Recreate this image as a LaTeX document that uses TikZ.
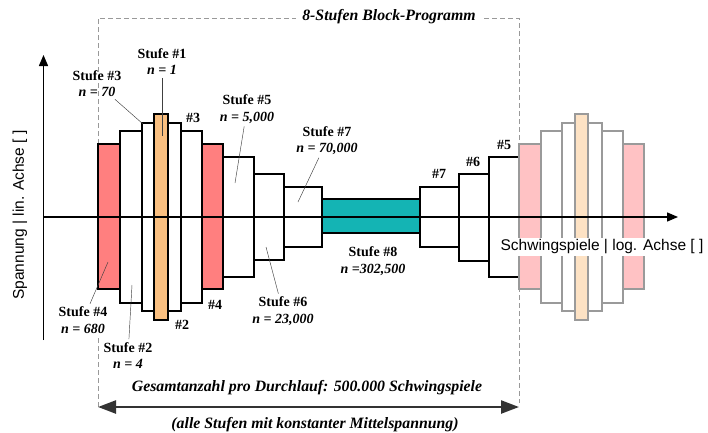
\documentclass[tikz,border=0pt]{standalone}
\usepackage{fontspec}
\setmainfont{Liberation Serif}
\newfontfamily\axfont{Liberation Sans}
\usetikzlibrary{arrows.meta}
\definecolor{redf}{HTML}{FF7F7F}
\definecolor{orf}{HTML}{F9BF80}
\definecolor{teal2}{HTML}{14B4B4}
\definecolor{pinkf}{HTML}{FFC2C4}
\definecolor{orlight}{HTML}{FDE2C4}
\definecolor{fadeline}{HTML}{9A9A9A}
\begin{document}
\begin{tikzpicture}[x=1pt,y=-1pt,
  blk/.style={draw=black,line width=1.2pt},
  faded/.style={draw=fadeline,line width=1.2pt},
  lbl/.style={font=\bfseries\fontsize{14}{16.5}\selectfont,align=center,inner sep=1pt},
  tag/.style={font=\bfseries\fontsize{14}{16.5}\selectfont,inner sep=1pt},
  lead/.style={draw=black!75,line width=0.45pt,shorten <=2pt},
  dashln/.style={draw=gray!80,line width=0.7pt,dash pattern=on 5pt off 3pt},
  axln/.style={draw=black,line width=1.3pt},
  axtxt/.style={font=\axfont\fontsize{15.5}{18}\selectfont},
  btxt/.style={font=\bfseries\itshape\fontsize{15.8}{18}\selectfont,inner sep=1pt}]
\useasboundingbox (0,0) rectangle (708,432);
\fill[white] (0,0) rectangle (708,432);

% dashed frame of the block programme
\draw[dashln] (98,144) -- (98,18) -- (519,18) -- (519,403);
\draw[dashln] (98,338) -- (98,407);

% left block (stages 1-4)
\draw[blk,fill=redf] (98,144) rectangle (120,289);
\draw[blk,fill=white] (120,131) rectangle (142,303);
\draw[blk,fill=white] (142,123) rectangle (154,311);
\draw[blk,fill=orf] (154,114) rectangle (168,320);
\draw[blk,fill=white] (168,123) rectangle (181,311);
\draw[blk,fill=white] (181,131) rectangle (202,303);
\draw[blk,fill=redf] (202,144) rectangle (223,289);
% stages 5-8-5
\draw[blk,fill=white] (223,157) rectangle (254,277);
\draw[blk,fill=white] (254,174) rectangle (284,260);
\draw[blk,fill=white] (284,187) rectangle (322,247);
\draw[blk,fill=teal2] (322,199) rectangle (420,233);
\draw[blk,fill=white] (420,187) rectangle (459,247);
\draw[blk,fill=white] (459,174) rectangle (489,261);
\draw[blk,fill=white] (489,157) rectangle (519,277);
% faded repetition
\draw[faded,fill=pinkf] (519,144) rectangle (541,289);
\draw[faded,fill=white] (541,131) rectangle (562,303);
\draw[faded,fill=white] (562,123) rectangle (575,311);
\draw[faded,fill=orlight] (575,114) rectangle (588,320);
\draw[faded,fill=white] (588,123) rectangle (602,311);
\draw[faded,fill=white] (602,131) rectangle (623,303);
\draw[faded,fill=pinkf] (623,144) rectangle (644,289);

% axes
\coordinate (yb) at (43.5,340);
\coordinate (yt) at (43.5,55);
\coordinate (xl) at (43.5,217);
\coordinate (xr) at (678,217);
\draw[axln,-{Triangle[length=11pt,width=9pt]}] (yb) -- (yt);
\draw[axln,-{Triangle[length=11pt,width=9pt]}] (xl) -- (xr);

% title
\node[btxt,fill=white,inner xsep=6pt] (title) at (389,17) {8-Stufen Block-Programm};

% axis labels
\node[axtxt,fill=white,inner sep=2pt] (xlab) at (602,247) {Schwingspiele | log. Achse [ ]};
\node[axtxt,rotate=90] (ylab) at (20,215) {Spannung | lin. Achse [ ]};

% stage labels
\node[lbl] (l1) at (162,61.5) {Stufe \#1\\\textit{n = 1}};
\node[lbl] (l3) at (97,83.5) {Stufe \#3\\\textit{n = 70}};
\node[lbl] (l5) at (247,109) {Stufe \#5\\\textit{n = 5,000}};
\node[lbl] (l7) at (327,140.5) {Stufe \#7\\\textit{n = 70,000}};
\node[lbl] (l4) at (83,320) {Stufe \#4\\\textit{n = 680}};
\node[lbl] (l2) at (128,355.5) {Stufe \#2\\\textit{n = 4}};
\node[lbl] (l6) at (283,311) {Stufe \#6\\\textit{n = 23,000}};
\node[lbl] (l8) at (373,261) {Stufe \#8\\\textit{n =302,500}};

\coordinate (p1) at (162,136);
\coordinate (p3) at (143,124);
\coordinate (p5) at (235,183);
\coordinate (p7) at (298,202);
\coordinate (p4) at (108,262);
\coordinate (p2) at (132,285);
\coordinate (p6) at (266,247);
\draw[lead] (l1) -- (p1);
\draw[lead] (l3) -- (p3);
\draw[lead] (l5) -- (p5);
\draw[lead] (l7) -- (p7);
\draw[lead] (l4) -- (p4);
\draw[lead] (l2) -- (p2);
\draw[lead] (l6) -- (p6);

% short tags
\node[tag] (t3) at (193,118) {\#3};
\node[tag] (t2) at (182,325) {\#2};
\node[tag] (t4) at (215,305) {\#4};
\node[tag] (t7) at (439,174) {\#7};
\node[tag] (t6) at (473,162) {\#6};
\node[tag] (t5) at (504,145) {\#5};

% total arrow
\coordinate (aL) at (98,407);
\coordinate (aR) at (519,407);
\draw[draw=black!80,line width=2.4pt,{Triangle[length=18pt,width=13pt]}-{Triangle[length=18pt,width=13pt]}] (aL) -- (aR);
\node[btxt] (tot) at (307,388) {Gesamtanzahl pro Durchlauf: 500.000 Schwingspiele};
\node[btxt] (note) at (315,425) {(alle Stufen mit konstanter Mittelspannung)};
\end{tikzpicture}
\end{document}
